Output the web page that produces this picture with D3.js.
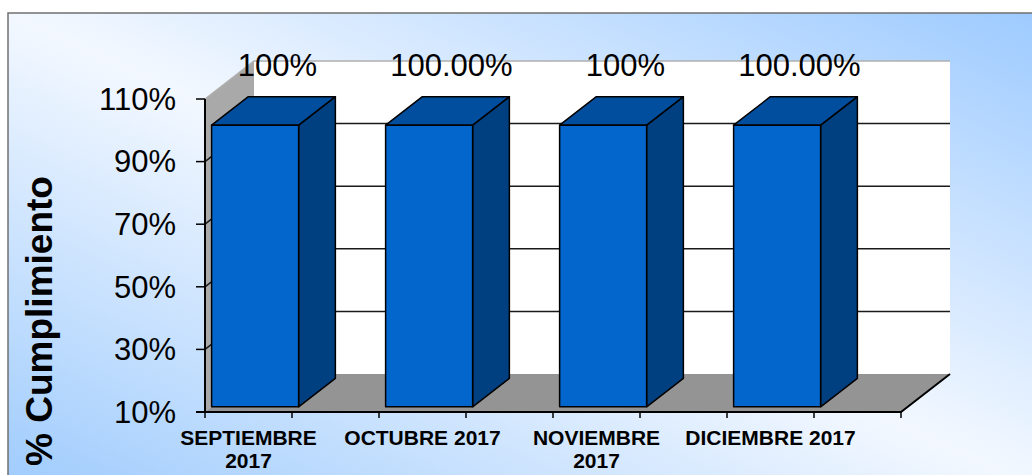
<!DOCTYPE html>
<html>
<head>
<meta charset="utf-8">
<script src="https://cdn.jsdelivr.net/npm/d3@7"></script>
<style>
  body { margin: 0; background: #fff; }
  svg { display: block; font-family: 'Liberation Sans', Arial, sans-serif; }
</style>
</head>
<body>
<div id="chart"></div>
<script>
// Excel-style 3D column chart: every other category is blank
const categories = ['SEPTIEMBRE\n2017', '', 'OCTUBRE 2017', '', 'NOVIEMBRE\n2017', '', 'DICIEMBRE 2017', ''];
const values = [100, null, 100, null, 100, null, 100, null];
const valueLabels = ['100%', '', '100.00%', '', '100%', '', '100.00%', ''];
const yTicks = [10, 30, 50, 70, 90, 110];
const yTitle = '% Cumplimiento';

const W = 1032, H = 475;
const depth = { dx: 49, dy: -38 };   // full floor depth projection
const barZ = [0.135, 0.885];          // bar front / back depth fraction

const svg = d3.select('#chart').append('svg')
  .attr('width', W).attr('height', H);

const defs = svg.append('defs');
const grad = defs.append('linearGradient')
  .attr('id', 'bg')
  .attr('x1', 0).attr('y1', 1).attr('x2', 1).attr('y2', 0);
grad.append('stop').attr('offset', 0).attr('stop-color', '#9ecbfd');
grad.append('stop').attr('offset', 0.5).attr('stop-color', '#f3f8ff');
grad.append('stop').attr('offset', 1).attr('stop-color', '#9ccaff');

// outer frame
svg.append('rect')
  .attr('x', 8).attr('y', 13)
  .attr('width', 1040).attr('height', 480)
  .attr('fill', 'url(#bg)')
  .attr('stroke', '#707070').attr('stroke-width', 1.5);

const x = d3.scaleBand()
  .domain(d3.range(categories.length))
  .range([205, 901])
  .padding(0);

const y = d3.scaleLinear()
  .domain([10, 110])
  .range([412, 99]);

const P = (px, v, z) => [px + depth.dx * z, y(v) + depth.dy * z];
const poly = pts => 'M' + pts.map(p => p.join(',')).join('L') + 'Z';

const x0 = x.range()[0], x1 = x.range()[1];
const vMin = y.domain()[0], vMax = y.domain()[1];

// walls and floor
const walls = svg.append('g');
walls.append('path')
  .attr('d', poly([P(x0, vMin, 1), P(x1, vMin, 1), P(x1, vMax, 1), P(x0, vMax, 1)]))
  .attr('fill', '#fff');
walls.append('path')
  .attr('d', poly([P(x0, vMin, 0), P(x0, vMin, 1), P(x0, vMax, 1), P(x0, vMax, 0)]))
  .attr('fill', '#a9a9a9');
walls.append('path')
  .attr('d', poly([P(x0, vMin, 0), P(x1, vMin, 0), P(x1, vMin, 1), P(x0, vMin, 1)]))
  .attr('fill', '#949494');

// gridlines on back wall and left wall
const grid = svg.append('g');
yTicks.filter(t => t > vMin).forEach(t => {
  const col = t === vMax ? '#b0b0b0' : '#1a1a1a';
  grid.append('path')
    .attr('d', 'M' + P(x0, t, 0).join(',') + 'L' + P(x0, t, 1).join(',') + 'L' + P(x1, t, 1).join(','))
    .attr('fill', 'none')
    .attr('stroke', col).attr('stroke-width', 1.5);
});

// bars
const bars = svg.append('g');
values.forEach((v, i) => {
  if (v == null) return;
  const a = x(i), b = x(i) + x.bandwidth();
  const [z0, z1] = barZ;
  const g = bars.append('g')
    .attr('stroke', '#000').attr('stroke-width', 1.5).attr('stroke-linejoin', 'round');
  g.append('path')
    .attr('d', poly([P(b, vMin, z0), P(b, vMin, z1), P(b, v, z1), P(b, v, z0)]))
    .attr('fill', '#003f80');
  g.append('path')
    .attr('d', poly([P(a, v, z0), P(b, v, z0), P(b, v, z1), P(a, v, z1)]))
    .attr('fill', '#024e9e');
  g.append('path')
    .attr('d', poly([P(a, vMin, z0), P(b, vMin, z0), P(b, v, z0), P(a, v, z0)]))
    .attr('fill', '#0366cc');
});

// value labels above bar tops
const zMid = (barZ[0] + barZ[1]) / 2;
svg.append('g').selectAll('text')
  .data(values.map((v, i) => ({ v, i })).filter(d => d.v != null))
  .join('text')
  .attr('x', d => x(d.i) + x.bandwidth() / 2 + depth.dx * zMid + 4)
  .attr('y', d => P(0, d.v, barZ[1])[1] - 21)
  .attr('text-anchor', 'middle')
  .attr('font-size', '31px')
  .attr('fill', '#000')
  .text(d => valueLabels[d.i]);

// floor front edge and right edge
svg.append('path')
  .attr('d', 'M' + [x0 - 9, y(vMin)].join(',') + 'L' + P(x1, vMin, 0).join(',') + 'L' + P(x1, vMin, 1).join(','))
  .attr('fill', 'none').attr('stroke', '#000').attr('stroke-width', 2);

// y axis
const yAxis = svg.append('g');
yAxis.append('line')
  .attr('x1', x0).attr('x2', x0)
  .attr('y1', y(vMax)).attr('y2', y(vMin))
  .attr('stroke', '#000').attr('stroke-width', 2);
yAxis.selectAll('.tick')
  .data(yTicks)
  .join('line')
  .attr('x1', x0 - 9).attr('x2', x0)
  .attr('y1', d => y(d)).attr('y2', d => y(d))
  .attr('stroke', '#000').attr('stroke-width', 1.5);
yAxis.selectAll('text')
  .data(yTicks)
  .join('text')
  .attr('x', 176)
  .attr('y', d => y(d))
  .attr('dy', '0.35em')
  .attr('text-anchor', 'end')
  .attr('font-size', '31px')
  .attr('fill', '#000')
  .text(d => d + '%');

// x axis ticks at band edges
const edges = d3.range(categories.length + 1).map(i => x0 + i * x.bandwidth());
svg.append('g').selectAll('line')
  .data(edges)
  .join('line')
  .attr('x1', d => d).attr('x2', d => d)
  .attr('y1', y(vMin)).attr('y2', y(vMin) + 6)
  .attr('stroke', '#000').attr('stroke-width', 1.5);

// category labels
const xl = svg.append('g')
  .attr('font-size', '21px').attr('font-weight', 'bold')
  .attr('text-anchor', 'middle').attr('fill', '#000');
categories.forEach((c, i) => {
  if (!c) return;
  const t = xl.append('text')
    .attr('x', x(i) + x.bandwidth() / 2)
    .attr('y', y(vMin) + 33);
  c.split('\n').forEach((line, k) => {
    t.append('tspan')
      .attr('x', x(i) + x.bandwidth() / 2)
      .attr('dy', k === 0 ? 0 : 23)
      .text(line);
  });
});

// y title
svg.append('text')
  .attr('transform', 'translate(52,321) rotate(-90)')
  .attr('text-anchor', 'middle')
  .attr('font-size', '37px').attr('font-weight', 'bold')
  .attr('fill', '#000')
  .text(yTitle);
</script>
</body>
</html>
